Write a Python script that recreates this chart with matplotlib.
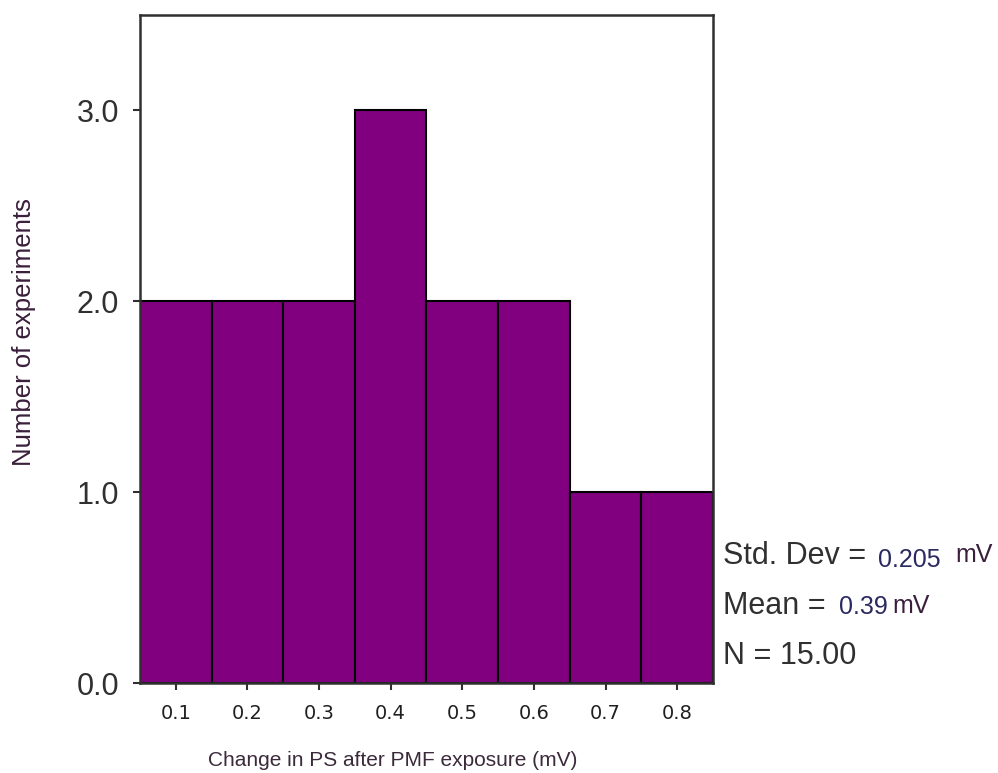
import numpy as np
import matplotlib.pyplot as plt

# --- histogram data ---
bin_centers = [0.1, 0.2, 0.3, 0.4, 0.5, 0.6, 0.7, 0.8]
counts = [2, 2, 2, 3, 2, 2, 1, 1]
bin_width = 0.1
y_ticks = [0.0, 1.0, 2.0, 3.0]

std_dev = 0.205
mean = 0.39
n_obs = 15

plt.rcParams['font.family'] = ['Liberation Sans', 'DejaVu Sans']

fig = plt.figure(figsize=(9.98, 7.73), dpi=100)
ax = fig.add_axes([0.1403, 0.1164, 0.5741, 0.8642])

ax.bar(bin_centers, counts, width=bin_width, color='#800080',
       edgecolor='black', linewidth=1.5)

ax.set_xlim(0.05, 0.85)
ax.set_ylim(0, 3.5)
ax.set_xticks(bin_centers)
ax.set_xticklabels([f'{c:.1f}' for c in bin_centers], family='DejaVu Sans',
                   fontsize=14, color='#202020')
ax.set_yticks(y_ticks)
ax.set_yticklabels([f'{v:.1f}' for v in y_ticks], fontsize=22, color='#303030')
ax.tick_params(axis='both', direction='out', length=5, width=1.5, color='#303030')
ax.tick_params(axis='x', pad=10)
ax.tick_params(axis='y', pad=10)
for s in ax.spines.values():
    s.set_linewidth(1.8)
    s.set_color('#303030')

# axis titles
fig.text(393 / 998, 1 - 760 / 773, 'Change in PS after PMF exposure (mV)',
         fontsize=15, color='#3a2a3a', ha='center', va='center')
fig.text(24 / 998, 1 - 332 / 773, 'Number of experiments', fontsize=18.5,
         color='#3a1f3a', rotation=90, ha='center', va='center')

# summary statistics to the right of the plot
tx = 723 / 998
fig.text(tx, 1 - 556 / 773, 'Std. Dev = ', fontsize=22, color='#303030', va='center')
fig.text(878 / 998, 1 - 560 / 773, f'{std_dev}', fontsize=18, color='#2a2a60', va='center')
fig.text(955 / 998, 1 - 555 / 773, 'mV', fontsize=18, color='#3a1f3a', va='center')
fig.text(tx, 1 - 606 / 773, 'Mean = ', fontsize=22, color='#303030', va='center')
fig.text(839 / 998, 1 - 607 / 773, f'{mean}', fontsize=18, color='#2a2a60', va='center')
fig.text(892 / 998, 1 - 606 / 773, 'mV', fontsize=18, color='#3a1f3a', va='center')
fig.text(tx, 1 - 656 / 773, f'N = {n_obs:.2f}', fontsize=22, color='#303030', va='center')

fig.savefig('out.png', dpi=100)
